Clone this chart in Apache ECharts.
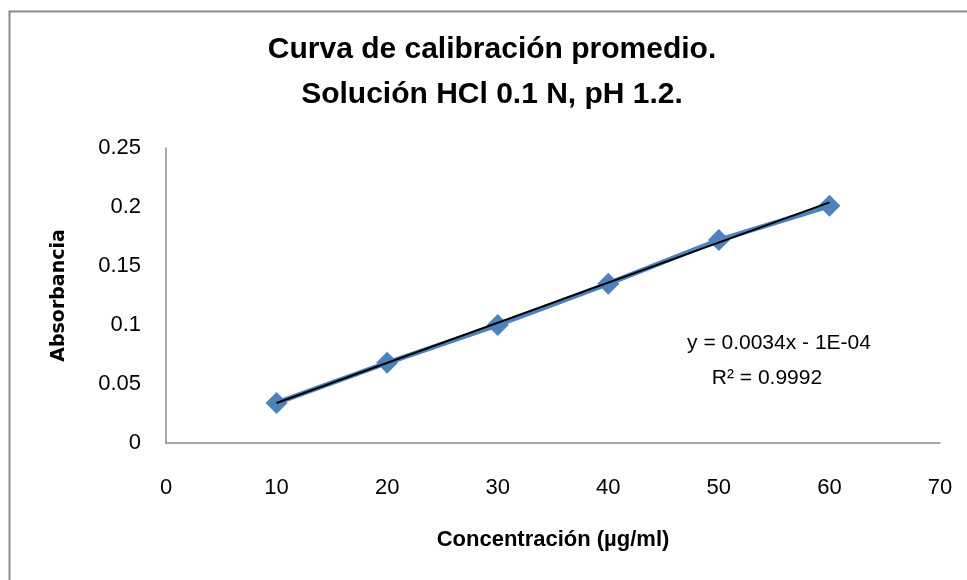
<!DOCTYPE html>
<html>
<head>
<meta charset="utf-8">
<script src="https://cdn.jsdelivr.net/npm/echarts@6/dist/echarts.min.js"></script>
<style>
  html, body { margin: 0; padding: 0; background: #fff; }
  #chart { width: 967px; height: 580px; }
</style>
</head>
<body>
<div id="chart"></div>
<script>
// concentracion (ug/ml) y absorbancia promedio
var concentracion = [10, 20, 30, 40, 50, 60]
var absorbancia = [0.034, 0.068, 0.100, 0.135, 0.172, 0.201]
// linea de tendencia: y = 0.0034x - 1E-04
var trendX = [10, 60]
var trendY = [0.0339, 0.2039]
var titleLines = ['Curva de calibración promedio.', 'Solución HCl 0.1 N, pH 1.2.']
var equationLines = ['y = 0.0034x - 1E-04', 'R² = 0.9992']

var font = '"Liberation Sans", sans-serif'
var chart = echarts.init(document.getElementById('chart'))

chart.setOption({
  animation: false,
  textStyle: { fontFamily: font },
  title: {
    text: titleLines.join('\n'),
    left: 487,
    top: 22,
    textAlign: 'center',
    textStyle: {
      fontFamily: font,
      fontSize: 30,
      fontWeight: 'bold',
      color: '#000',
      lineHeight: 45
    }
  },
  graphic: [{
    type: 'rect',
    left: 7,
    top: 9,
    shape: { width: 990, height: 600 },
    style: { fill: 'none', stroke: '#8c8c8c', lineWidth: 2 },
    z: -1
  }, {
    type: 'text',
    x: 779,
    y: 343,
    style: {
      text: equationLines[0],
      fontFamily: font,
      fontSize: 21,
      align: 'center',
      verticalAlign: 'middle',
      fill: '#000'
    }
  }, {
    type: 'text',
    x: 767,
    y: 378,
    style: {
      text: equationLines[1],
      fontFamily: font,
      fontSize: 21,
      align: 'center',
      verticalAlign: 'middle',
      fill: '#000'
    }
  }],
  grid: { left: 166, right: 27, top: 148, bottom: 137 },
  xAxis: {
    type: 'value',
    min: 0,
    max: 70,
    interval: 10,
    name: 'Concentración (µg/ml)',
    nameLocation: 'middle',
    nameGap: 86,
    nameTextStyle: { fontFamily: font, fontSize: 22, fontWeight: 'bold', color: '#000' },
    axisLine: { lineStyle: { color: '#8c8c8c', width: 1.5 } },
    axisTick: { show: false },
    splitLine: { show: false },
    axisLabel: { fontSize: 22, color: '#000', margin: 34 }
  },
  yAxis: {
    type: 'value',
    min: 0,
    max: 0.25,
    interval: 0.05,
    name: 'Absorbancia',
    nameLocation: 'middle',
    nameGap: 97,
    nameTextStyle: { fontFamily: '"DejaVu Sans", sans-serif', fontSize: 19, fontWeight: 'bold', color: '#000' },
    axisLine: { show: true, lineStyle: { color: '#8c8c8c', width: 1.5 } },
    axisTick: { show: false },
    splitLine: { show: false },
    axisLabel: { fontSize: 22, color: '#000', margin: 25 }
  },
  series: [{
    name: 'Absorbancia',
    type: 'line',
    data: concentracion.map(function (x, i) { return [x, absorbancia[i]] }),
    symbol: 'diamond',
    symbolSize: 22,
    lineStyle: { color: '#4f81bd', width: 5 },
    itemStyle: { color: '#4f81bd' },
    z: 2
  }, {
    name: 'Tendencia',
    type: 'line',
    data: trendX.map(function (x, i) { return [x, trendY[i]] }),
    symbol: 'none',
    lineStyle: { color: '#000', width: 2 },
    z: 3
  }]
})
</script>
</body>
</html>
